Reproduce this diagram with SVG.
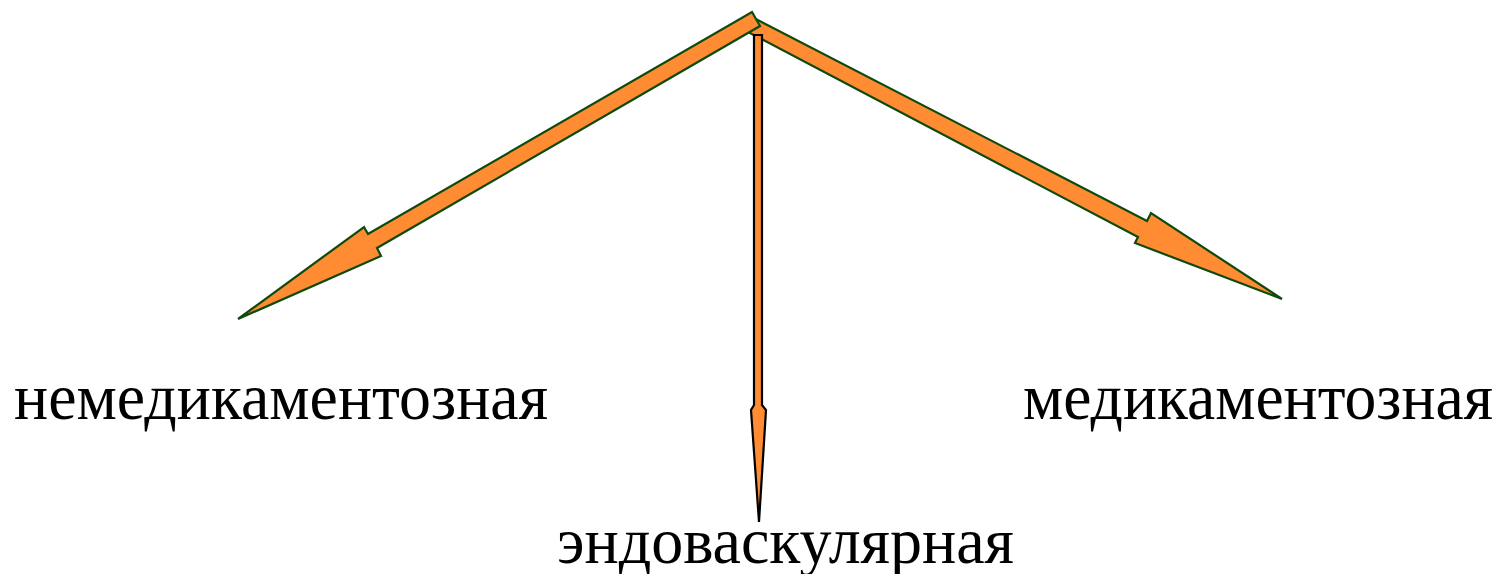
<svg xmlns="http://www.w3.org/2000/svg" width="1501" height="574" viewBox="0 0 1501 574">
<style>
.arr{fill:#FF8B33;stroke:#0E4A0E;stroke-width:2.2;stroke-linejoin:miter}
.arrk{fill:#FF8B33;stroke:#000;stroke-width:2.2;stroke-linejoin:miter}
.lbl{font-family:"Liberation Serif","Times New Roman",serif;font-size:65px;fill:#000}
</style>
<rect width="1501" height="574" fill="#fff"/>
<g id="connectors">
<polygon id="arrow-right" class="arr" points="752,17 1147,221 1151,213 1282,299 1135,243 1138,237 748,32"/>
<polygon id="arrow-down" class="arrk" points="754,35 762,35 762,405 766,410 759,522 751,410 754,405"/>
<polygon id="arrow-left" class="arr" points="752,12 760,26 377,248 381,256 238,319 364,227 368,234"/>
</g>
<g id="node-nonmed"><text class="lbl" x="14" y="419" textLength="534" lengthAdjust="spacingAndGlyphs">немедикаментозная</text></g>
<g id="node-med"><text class="lbl" x="1023" y="419" textLength="470" lengthAdjust="spacingAndGlyphs">медикаментозная</text></g>
<g id="node-endo"><text class="lbl" x="557" y="563" textLength="457" lengthAdjust="spacingAndGlyphs">эндоваскулярная</text></g>
</svg>
